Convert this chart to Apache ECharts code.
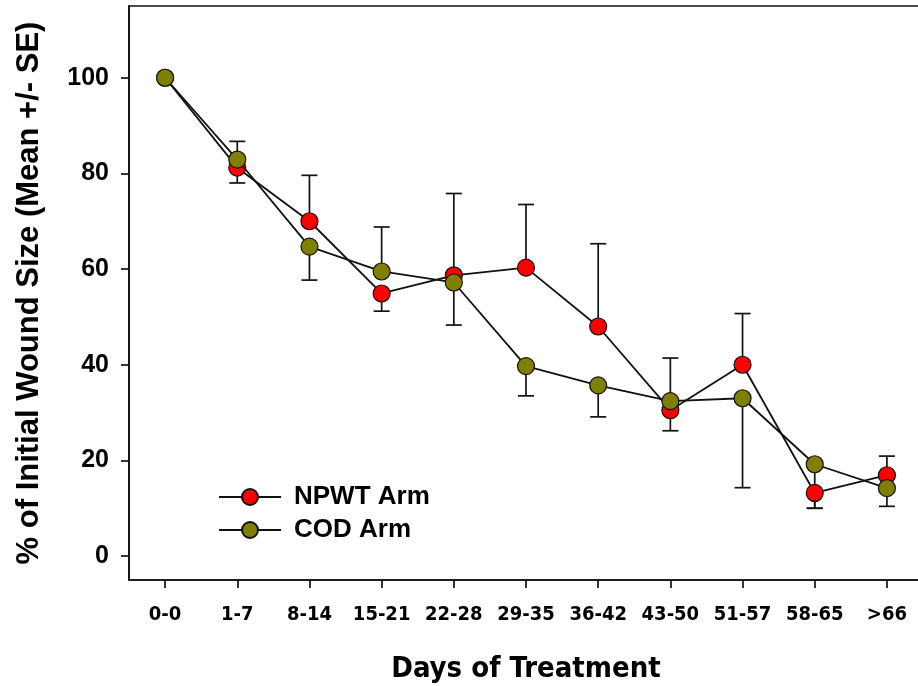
<!DOCTYPE html>
<html>
<head>
<meta charset="utf-8">
<script src="https://cdn.jsdelivr.net/npm/echarts@6/dist/echarts.min.js"></script>
<style>html,body{margin:0;padding:0;background:#fff;}#c{width:918px;height:686px;}</style>
</head>
<body>
<div id="c"></div>
<script>
var categories = ['0-0','1-7','8-14','15-21','22-28','29-35','36-42','43-50','51-57','58-65','>66'];
var npwtMean = [100, 81.2, 70.0, 54.9, 58.7, 60.3, 48.0, 30.5, 40.0, 13.2, 16.9];
var npwtErrEnd = [null, 78.0, 79.6, 51.2, 75.8, 73.5, 65.3, 26.2, 50.7, 10.0, 20.9];
var codMean = [100, 82.9, 64.7, 59.5, 57.2, 39.7, 35.7, 32.4, 33.0, 19.2, 14.2];
var codErrEnd = [null, 86.7, 57.7, 68.8, 48.3, 33.5, 29.1, 41.4, 14.3, 10.0, 10.4];
var yTicks = [0, 20, 40, 60, 80, 100];

var COND = '"DejaVu Sans Condensed", "Liberation Sans", Arial, sans-serif';
var SANS = '"Liberation Sans", Arial, sans-serif';

function errData(mean, end) {
  var out = [];
  for (var i = 0; i < mean.length; i++) {
    if (end[i] !== null) out.push([i, mean[i], end[i]]);
  }
  return out;
}
function errRender(params, api) {
  var x = api.value(0), m = api.value(1), e = api.value(2);
  var p0 = api.coord([x, m]);
  var p1 = api.coord([x, e]);
  var hw = 8;
  var st = {stroke: '#111', lineWidth: 1.7};
  return {type: 'group', children: [
    {type: 'line', shape: {x1: p0[0], y1: p0[1], x2: p1[0], y2: p1[1]}, style: st},
    {type: 'line', shape: {x1: p1[0] - hw, y1: p1[1], x2: p1[0] + hw, y2: p1[1]}, style: st}
  ]};
}

var chart = echarts.init(document.getElementById('c'));
chart.setOption({
  animation: false,
  backgroundColor: '#fff',
  grid: {left: 129, top: 6, bottom: 106, right: -5, show: true, borderColor: '#111', borderWidth: 1.7,
         containLabel: false, outerBoundsMode: 'none'},
  legend: {
    orient: 'vertical', left: 213, top: 479, padding: 5, itemWidth: 62, itemHeight: 20, itemGap: 7,
    textStyle: {fontFamily: SANS, fontWeight: 'bold', fontSize: 26, lineHeight: 25, color: '#000', padding: [0, 0, 0, 8]},
    data: ['NPWT Arm', 'COD Arm']
  },
  xAxis: {
    type: 'category', data: categories, boundaryGap: true,
    axisLine: {show: true, onZero: false, lineStyle: {color: '#111', width: 1.7}},
    axisTick: {show: true, alignWithLabel: true, inside: false, length: 8, lineStyle: {color: '#111', width: 1.7}},
    axisLabel: {interval: 0, margin: 25, fontFamily: COND, fontWeight: 'bold', fontSize: 20, color: '#000'},
    splitLine: {show: false},
    name: 'Days of Treatment', nameLocation: 'middle', nameGap: 75,
    nameTextStyle: {fontFamily: COND, fontWeight: 'bold', fontSize: 29, color: '#000'}
  },
  yAxis: {
    type: 'value', min: -5, max: 115,
    axisLine: {show: true, lineStyle: {color: '#111', width: 1.7}},
    axisTick: {show: true, length: 8, customValues: yTicks, lineStyle: {color: '#111', width: 1.7}},
    axisLabel: {customValues: yTicks, margin: 20, fontFamily: SANS, fontWeight: 'bold', fontSize: 25, color: '#000'},
    splitLine: {show: false},
    name: '% of Initial Wound Size (Mean +/- SE)', nameLocation: 'middle', nameGap: 84, nameRotate: 90,
    nameTextStyle: {fontFamily: SANS, fontWeight: 'bold', fontSize: 31, color: '#000'}
  },
  series: [
    {type: 'custom', name: 'errN', renderItem: errRender, data: errData(npwtMean, npwtErrEnd), z: 1, silent: true},
    {type: 'custom', name: 'errC', renderItem: errRender, data: errData(codMean, codErrEnd), z: 1, silent: true},
    {type: 'line', name: 'NPWT Arm', data: npwtMean, z: 3, symbol: 'circle', symbolSize: 17,
     lineStyle: {color: '#111', width: 1.8}, itemStyle: {color: '#ff0000', borderColor: '#111', borderWidth: 1.2}},
    {type: 'line', name: 'COD Arm', data: codMean, z: 4, symbol: 'circle', symbolSize: 17,
     lineStyle: {color: '#111', width: 1.8}, itemStyle: {color: '#808000', borderColor: '#111', borderWidth: 1.2}}
  ]
});
</script>
</body>
</html>
